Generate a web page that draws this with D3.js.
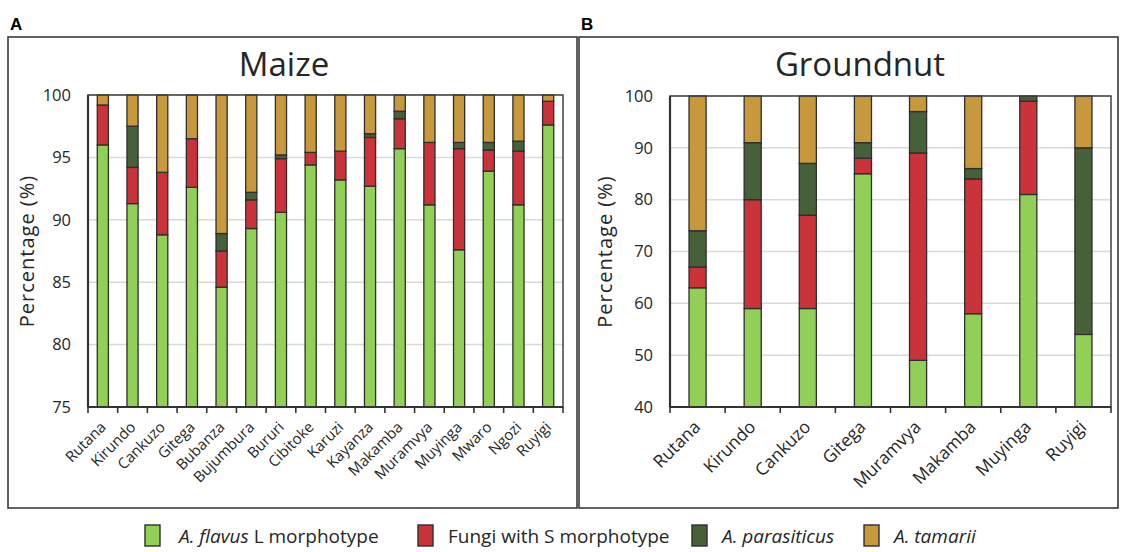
<!DOCTYPE html>
<html>
<head>
<meta charset="utf-8">
<script src="https://cdnjs.cloudflare.com/ajax/libs/d3/7.8.5/d3.min.js"></script>
<style>
  body { margin: 0; background: #fff; }
  svg text { font-family: "Open Sans", "DejaVu Sans", sans-serif; fill: #262626; }
</style>
</head>
<body>
<script>
var width = 1124;
var height = 552;

// series keys and colours
var series_keys = ['flavus_l', 'fungi_s', 'parasiticus', 'tamarii'];
var series_colors = ['#92cf57', '#cb333b', '#46613a', '#c8983c'];

// Maize districts (panel A)
var maize_districts = ['Rutana', 'Kirundo', 'Cankuzo', 'Gitega', 'Bubanza', 'Bujumbura', 'Bururi', 'Cibitoke',
    'Karuzi', 'Kayanza', 'Makamba', 'Muramvya', 'Muyinga', 'Mwaro', 'Ngozi', 'Ruyigi'];
var maize_flavus_l = [96.0, 91.3, 88.8, 92.6, 84.6, 89.3, 90.6, 94.4, 93.2, 92.7, 95.7, 91.2, 87.6, 93.9, 91.2, 97.6];
var maize_fungi_s = [3.2, 2.9, 5.0, 3.9, 2.9, 2.3, 4.3, 1.0, 2.3, 3.9, 2.4, 5.0, 8.1, 1.7, 4.3, 1.9];
var maize_parasiticus = [0.0, 3.3, 0.0, 0.0, 1.4, 0.6, 0.3, 0.0, 0.0, 0.3, 0.6, 0.0, 0.5, 0.6, 0.8, 0.0];
var maize_tamarii = [0.8, 2.5, 6.2, 3.5, 11.1, 7.8, 4.8, 4.6, 4.5, 3.1, 1.3, 3.8, 3.8, 3.8, 3.7, 0.5];
var maize_ticks = [75, 80, 85, 90, 95, 100];

// Groundnut districts (panel B)
var groundnut_districts = ['Rutana', 'Kirundo', 'Cankuzo', 'Gitega', 'Muramvya', 'Makamba', 'Muyinga', 'Ruyigi'];
var groundnut_flavus_l = [63, 59, 59, 85, 49, 58, 81, 54];
var groundnut_fungi_s = [4, 21, 18, 3, 40, 26, 18, 0];
var groundnut_parasiticus = [7, 11, 10, 3, 8, 2, 1, 36];
var groundnut_tamarii = [26, 9, 13, 9, 3, 14, 0, 10];
var groundnut_ticks = [40, 50, 60, 70, 80, 90, 100];

var legend_items = [
    { italic: 'A. flavus', plain: ' L morphotype' },
    { italic: '', plain: 'Fungi with S morphotype' },
    { italic: 'A. parasiticus', plain: '' },
    { italic: 'A. tamarii', plain: '' }
];

var panels = [
    { letter: 'A', title: 'Maize', box: [8, 37, 577, 508], plot: [88, 95, 563, 407],
      districts: maize_districts, values: [maize_flavus_l, maize_fungi_s, maize_parasiticus, maize_tamarii],
      domain: [75, 100], ticks: maize_ticks, pad: 0.625, ylabel_x: 34, title_x: 284, xlabel_size: 15 },
    { letter: 'B', title: 'Groundnut', box: [579, 37, 1118, 508], plot: [670, 96, 1111, 407],
      districts: groundnut_districts, values: [groundnut_flavus_l, groundnut_fungi_s, groundnut_parasiticus, groundnut_tamarii],
      domain: [40, 100], ticks: groundnut_ticks, pad: 0.69, ylabel_x: 612, title_x: 860, xlabel_size: 17.5 }
];

var svg = d3.select('body')
    .append('svg')
    .attr('width', width)
    .attr('height', height)
    .attr('viewBox', `0 0 ${width} ${height}`);

function draw_panel(p) {
    var g = svg.append('g').attr('class', 'panel_' + p.letter);

    // outer frame + panel letter
    g.append('rect')
        .attr('x', p.box[0]).attr('y', p.box[1])
        .attr('width', p.box[2] - p.box[0]).attr('height', p.box[3] - p.box[1])
        .attr('fill', 'none').attr('stroke', '#3a3a3a').attr('stroke-width', 1.6);

    g.append('text')
        .attr('x', p.box[0] + 2).attr('y', p.box[1] - 7)
        .style('font-family', 'Arial, "Liberation Sans", sans-serif')
        .style('font-weight', 700).style('font-size', '17px')
        .style('fill', '#000')
        .text(p.letter);

    g.append('text')
        .attr('x', p.title_x).attr('y', 76)
        .attr('text-anchor', 'middle')
        .style('font-size', '33px')
        .text(p.title);

    var x = d3.scaleBand()
        .domain(p.districts)
        .range([p.plot[0], p.plot[2]])
        .paddingInner(p.pad)
        .paddingOuter(p.pad / 2);

    var y = d3.scaleLinear()
        .domain(p.domain)
        .range([p.plot[3], p.plot[1]]);

    // gridlines
    g.append('g')
        .selectAll('line')
        .data(p.ticks)
        .enter()
        .append('line')
        .attr('x1', p.plot[0]).attr('x2', p.plot[2])
        .attr('y1', function(d) { return y(d); })
        .attr('y2', function(d) { return y(d); })
        .attr('stroke', '#d9d9d9').attr('stroke-width', 1.5);

    // y tick labels
    g.append('g')
        .selectAll('text')
        .data(p.ticks)
        .enter()
        .append('text')
        .attr('x', p.plot[0] - 17)
        .attr('y', function(d) { return y(d); })
        .attr('dy', '0.35em')
        .attr('text-anchor', 'end')
        .style('font-size', '16.5px')
        .text(function(d) { return d; });

    g.append('text')
        .attr('transform', `translate(${p.ylabel_x}, ${(p.plot[1] + p.plot[3]) / 2}) rotate(-90)`)
        .attr('text-anchor', 'middle')
        .style('font-size', '20px')
        .style('letter-spacing', '1px')
        .text('Percentage (%)');

    // stacked bars
    var table = p.districts.map(function(name, i) {
        var row = { district: name };
        series_keys.forEach(function(k, j) { row[k] = p.values[j][i]; });
        return row;
    });
    var stacked = d3.stack().keys(series_keys)(table);

    g.append('g')
        .selectAll('g')
        .data(stacked)
        .enter()
        .append('g')
        .attr('fill', function(d, i) { return series_colors[i]; })
        .selectAll('rect')
        .data(function(d) { return d.filter(function(s) { return s[1] - s[0] > 0; }); })
        .enter()
        .append('rect')
        .attr('x', function(d) { return x(d.data.district); })
        .attr('width', x.bandwidth())
        .attr('y', function(d) { return y(Math.min(d[1], p.domain[1])); })
        .attr('height', function(d) {
            return y(Math.max(d[0], p.domain[0])) - y(Math.min(d[1], p.domain[1]));
        })
        .attr('stroke', '#2e2e2e').attr('stroke-width', 1.3);

    // plot frame
    g.append('rect')
        .attr('x', p.plot[0]).attr('y', p.plot[1])
        .attr('width', p.plot[2] - p.plot[0]).attr('height', p.plot[3] - p.plot[1])
        .attr('fill', 'none').attr('stroke', '#404040').attr('stroke-width', 1.5);

    g.append('line')
        .attr('x1', p.plot[0]).attr('x2', p.plot[2])
        .attr('y1', p.plot[3]).attr('y2', p.plot[3])
        .attr('stroke', '#333').attr('stroke-width', 2.2);
    g.append('line')
        .attr('x1', p.plot[0]).attr('x2', p.plot[0])
        .attr('y1', p.plot[1]).attr('y2', p.plot[3])
        .attr('stroke', '#333').attr('stroke-width', 2.2);

    // x ticks at band edges
    var edges = d3.range(p.districts.length + 1).map(function(i) { return p.plot[0] + i * x.step(); });
    g.append('g')
        .selectAll('line')
        .data(edges)
        .enter()
        .append('line')
        .attr('x1', function(d) { return d; }).attr('x2', function(d) { return d; })
        .attr('y1', p.plot[3]).attr('y2', p.plot[3] + 6)
        .attr('stroke', '#333').attr('stroke-width', 1.6);

    g.append('g')
        .selectAll('text')
        .data(p.districts)
        .enter()
        .append('text')
        .attr('transform', function(d) {
            return `translate(${x(d) + x.bandwidth() / 2 + 4}, ${p.plot[3] + 21}) rotate(-45)`;
        })
        .attr('text-anchor', 'end')
        .style('font-size', p.xlabel_size + 'px')
        .text(function(d) { return d; });
}

panels.forEach(draw_panel);

// legend
var legend_x = [145, 418, 692, 864];
var legend = svg.append('g').attr('class', 'legend');
legend_items.forEach(function(item, i) {
    legend.append('rect')
        .attr('x', legend_x[i]).attr('y', 525)
        .attr('width', 15).attr('height', 21)
        .attr('fill', series_colors[i])
        .attr('stroke', '#2e2e2e').attr('stroke-width', 1.4);
    var t = legend.append('text')
        .attr('x', legend_x[i] + (i === 0 ? 34 : 30)).attr('y', 543)
        .style('font-size', '19px');
    if (item.italic) t.append('tspan').style('font-style', 'italic').text(item.italic);
    if (item.plain) t.append('tspan').text(item.plain);
});
</script>
</body>
</html>
